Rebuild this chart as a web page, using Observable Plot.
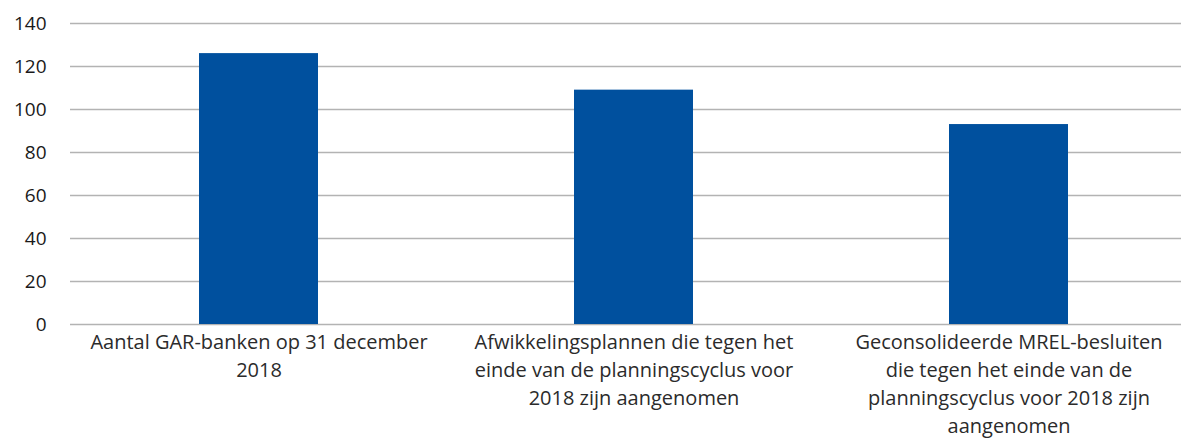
<!DOCTYPE html>
<html>
<head>
<meta charset="utf-8">
<script src="https://cdn.jsdelivr.net/npm/d3@7"></script>
<script src="https://cdn.jsdelivr.net/npm/@observablehq/plot@0.6"></script>
<style>
  html, body { margin: 0; padding: 0; background: #fff; }
  #chart { width: 1181px; height: 442px; overflow: hidden; }
</style>
</head>
<body>
<div id="chart"></div>
<script>
const categories = [
  "Aantal GAR-banken op 31 december 2018",
  "Afwikkelingsplannen die tegen het einde van de planningscyclus voor 2018 zijn aangenomen",
  "Geconsolideerde MREL-besluiten die tegen het einde van de planningscyclus voor 2018 zijn aangenomen"
];
const categoryLabels = [
  "Aantal GAR-banken op 31 december\n2018",
  "Afwikkelingsplannen die tegen het\neinde van de planningscyclus voor\n2018 zijn aangenomen",
  "Geconsolideerde MREL-besluiten\ndie tegen het einde van de\nplanningscyclus voor 2018 zijn\naangenomen"
];
const values = [126, 109, 93];
const yTicks = [0, 20, 40, 60, 80, 100, 120, 140];

const data = categories.map((c, i) => ({category: c, value: values[i]}));
const labelOf = new Map(categories.map((c, i) => [c, categoryLabels[i]]));

const plot = Plot.plot({
  width: 1181,
  height: 442,
  marginTop: 23,
  marginBottom: 118,
  marginLeft: 70,
  marginRight: 0,
  style: {fontFamily: "'Open Sans', sans-serif", fontSize: "18px", background: "#fff", overflow: "hidden"},
  x: {domain: categories, range: [71, 1196], paddingInner: 0.683, paddingOuter: 0.3415},
  y: {domain: [0, 140]},
  marks: [
    Plot.ruleY(yTicks, {stroke: "#b3b3b3", strokeWidth: 1.3}),
    Plot.barY(data, {x: "category", y: "value", fill: "#00509e"}),
    Plot.axisY(yTicks, {tickSize: 0, tickPadding: 24, label: null, fontSize: 19, fill: "#1a1a1a", tickFormat: d => d}),
    Plot.axisX({tickSize: 0, tickPadding: 5, label: null, fontSize: 20, lineHeight: 1.4, fill: "#2b2b2b", tickFormat: d => labelOf.get(d)})
  ]
});
document.getElementById("chart").appendChild(plot);
</script>
</body>
</html>
